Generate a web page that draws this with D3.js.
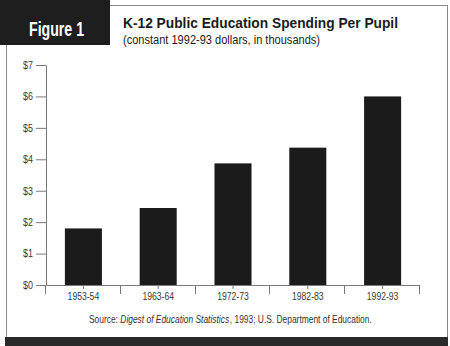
<!DOCTYPE html>
<html>
<head>
<meta charset="utf-8">
<script src="https://cdn.jsdelivr.net/npm/d3@7/dist/d3.min.js"></script>
<style>
  html, body { margin: 0; padding: 0; background: #fff; }
  svg { display: block; }
  .narrow { font-family: "Liberation Sans Narrow", "Arial Narrow", "Liberation Sans", Arial, sans-serif; }
</style>
</head>
<body>
<svg id="chart" width="450" height="346"></svg>
<script>
// Spending per pupil, thousands of constant 1992-93 dollars
const years = ["1953-54", "1963-64", "1972-73", "1982-83", "1992-93"];
const spending = [1.8, 2.45, 3.87, 4.37, 6.0];
const yTicks = [0, 1, 2, 3, 4, 5, 6, 7];

const svg = d3.select("#chart");
const ink = "#1b1b1b";
const rule = "#7a7a7a";

// Squeeze a text element horizontally to mimic a condensed face
function condense(sel, factor) {
  sel.each(function () {
    const w = this.getComputedTextLength();
    d3.select(this).attr("textLength", w * factor).attr("lengthAdjust", "spacingAndGlyphs");
  });
}

// Page frame
svg.append("line").attr("x1", 6.5).attr("x2", 6.5).attr("y1", 45).attr("y2", 337).attr("stroke", "#8a8a8a");
svg.append("line").attr("x1", 110).attr("x2", 447.5).attr("y1", 5.5).attr("y2", 5.5).attr("stroke", "#8a8a8a");
svg.append("line").attr("x1", 447.5).attr("x2", 447.5).attr("y1", 5).attr("y2", 337).attr("stroke", "#8a8a8a");
svg.append("rect").attr("x", 5).attr("y", 337).attr("width", 443).attr("height", 9).attr("fill", "#2a2a2a");

// Figure tag
svg.append("rect").attr("x", 0).attr("y", 0).attr("width", 110).attr("height", 45).attr("fill", "#1e1e1e");
svg.append("text").attr("class", "narrow")
  .attr("x", 29).attr("y", 36)
  .attr("fill", "#fff").attr("font-weight", "bold").attr("font-size", 20)
  .attr("textLength", 55).attr("lengthAdjust", "spacingAndGlyphs")
  .text("Figure 1");

// Titles
svg.append("text").attr("class", "narrow")
  .attr("x", 123).attr("y", 27.5)
  .attr("fill", ink).attr("font-weight", "bold").attr("font-size", 15.5)
  .attr("textLength", 275).attr("lengthAdjust", "spacingAndGlyphs")
  .text("K-12 Public Education Spending Per Pupil");
svg.append("text").attr("class", "narrow")
  .attr("x", 123).attr("y", 43.5)
  .attr("fill", ink).attr("font-size", 12.5)
  .attr("textLength", 197).attr("lengthAdjust", "spacingAndGlyphs")
  .text("(constant 1992-93 dollars, in thousands)");

// Scales
const x = d3.scaleBand().domain(years).range([46, 420]).paddingInner(0).paddingOuter(0);
const y = d3.scaleLinear().domain([0, 7]).range([285, 65]);
const barW = x.bandwidth() * 0.495;

// Bars
svg.append("g").selectAll("rect").data(years).join("rect")
  .attr("x", d => x(d) + (x.bandwidth() - barW) / 2)
  .attr("width", barW)
  .attr("y", (d, i) => y(spending[i]))
  .attr("height", (d, i) => y(0) - y(spending[i]))
  .attr("fill", ink);

// Y axis
const yAxis = svg.append("g").attr("transform", "translate(46,0)")
  .call(d3.axisLeft(y).tickValues(yTicks).tickSize(10).tickSizeOuter(0).tickPadding(3).tickFormat(d => "$" + d));
yAxis.select(".domain").attr("stroke", rule);
yAxis.selectAll(".tick line").attr("stroke", rule);
yAxis.selectAll("text").attr("class", "narrow").attr("font-size", 10.5).attr("fill", "#3a3a3a");
condense(yAxis.selectAll("text"), 0.85);

// X axis: short centre ticks plus longer dividers between periods
const xAxis = svg.append("g").attr("transform", "translate(0,285)")
  .call(d3.axisBottom(x).tickSize(4).tickSizeOuter(0).tickPadding(4));
xAxis.select(".domain").attr("stroke", rule).attr("d", "M40,0.5H420");
xAxis.selectAll(".tick line").attr("stroke", rule);
xAxis.selectAll("text").attr("class", "narrow").attr("font-size", 10.5).attr("fill", "#3a3a3a");
condense(xAxis.selectAll("text"), 0.82);

const dividers = years.map(d => x(d)).concat([x(years[years.length - 1]) + x.bandwidth()]);
svg.append("g").selectAll("line").data(dividers).join("line")
  .attr("x1", d => Math.round(d) - 0.5).attr("x2", d => Math.round(d) - 0.5)
  .attr("y1", 285).attr("y2", 294)
  .attr("stroke", rule);

// Source line, set as consecutive pieces (roman / italic / roman) in a
// horizontally squeezed group
const sourceParts = [
  { t: "Source:", italic: false, gap: 2.9 },
  { t: "Digest of Education Statistics", italic: true, gap: 0.6 },
  { t: ", 1993; U.S. Department of Education.", italic: false, gap: 0 }
];
const srcG = svg.append("g");
const pieces = srcG.selectAll("text").data(sourceParts).join("text")
  .attr("class", "narrow")
  .attr("y", 323)
  .attr("fill", "#333").attr("font-size", 10.5)
  .attr("font-style", d => d.italic ? "italic" : "normal")
  .text(d => d.t);
let cursor = 0;
pieces.each(function (d) {
  d3.select(this).attr("x", cursor);
  cursor += this.getComputedTextLength() + d.gap;
});
const squeeze = 283 / cursor;
srcG.attr("transform", `translate(89,0) scale(${squeeze},1)`);
</script>
</body>
</html>
